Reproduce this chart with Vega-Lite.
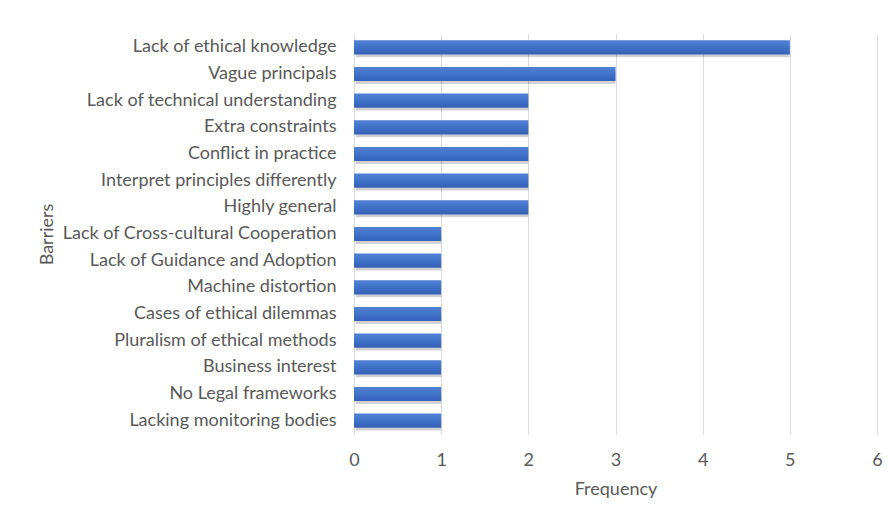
{
  "$schema": "https://vega.github.io/schema/vega-lite/v6.json",
  "autosize": "none",
  "width": 523,
  "height": 400,
  "padding": {"left": 354, "top": 34, "right": 16, "bottom": 87},
  "background": "white",
  "data": {"values": [
    {"barrier": "Lack of ethical knowledge", "frequency": 5},
    {"barrier": "Vague principals", "frequency": 3},
    {"barrier": "Lack of technical understanding", "frequency": 2},
    {"barrier": "Extra constraints", "frequency": 2},
    {"barrier": "Conflict in practice", "frequency": 2},
    {"barrier": "Interpret principles differently", "frequency": 2},
    {"barrier": "Highly general", "frequency": 2},
    {"barrier": "Lack of Cross-cultural Cooperation", "frequency": 1},
    {"barrier": "Lack of Guidance and Adoption", "frequency": 1},
    {"barrier": "Machine distortion", "frequency": 1},
    {"barrier": "Cases of ethical dilemmas", "frequency": 1},
    {"barrier": "Pluralism of ethical methods", "frequency": 1},
    {"barrier": "Business interest", "frequency": 1},
    {"barrier": "No Legal frameworks", "frequency": 1},
    {"barrier": "Lacking monitoring bodies", "frequency": 1}
  ]},
  "encoding": {
    "y": {
      "field": "barrier", "type": "nominal", "sort": null,
      "scale": {"paddingInner": 0.47, "paddingOuter": 0.235},
      "axis": {
        "title": "Barriers", "titleX": -307, "titleY": 200, "titleAngle": -90,
        "titleAlign": "center", "titleBaseline": "middle",
        "domain": true, "domainColor": "#d9d9d9", "domainWidth": 1,
        "ticks": false, "labelPadding": 18, "labelLimit": 400,
        "labelFont": "Lato", "labelFontSize": 18, "labelColor": "#595959",
        "titleFont": "Lato", "titleFontSize": 18, "titleFontWeight": "normal", "titleColor": "#595959"
      }
    },
    "x": {
      "field": "frequency", "type": "quantitative",
      "scale": {"domain": [0, 6], "nice": false},
      "axis": {
        "title": "Frequency", "values": [0,1,2,3,4,5,6], "format": "d",
        "grid": true, "gridColor": "#d9d9d9", "gridWidth": 1,
        "domain": false, "ticks": false, "labelPadding": 17, "labelFlush": false,
        "labelFont": "Lato", "labelFontSize": 18, "labelColor": "#595959",
        "titleFont": "Lato", "titleFontSize": 18, "titleFontWeight": "normal", "titleColor": "#595959",
        "titleY": 55, "titleBaseline": "middle"
      }
    }
  },
  "layer": [
    {"mark": {"type": "bar", "color": "#000000", "opacity": 0.18, "yOffset": 3, "xOffset": 2, "cornerRadius": 1}},
    {"mark": {"type": "bar", "color": {"gradient": "linear", "x1": 0, "y1": 0, "x2": 0, "y2": 1,
      "stops": [{"offset": 0, "color": "#5082d6"}, {"offset": 1, "color": "#3461ba"}]}}}
  ],
  "config": {"view": {"stroke": null}}
}
